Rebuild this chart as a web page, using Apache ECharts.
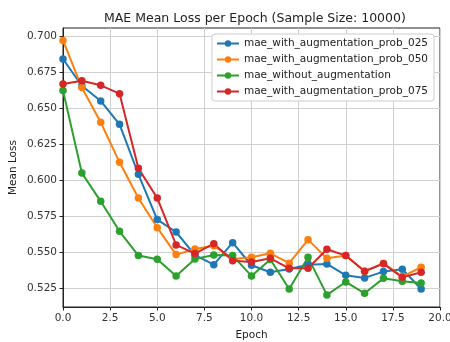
<!DOCTYPE html>
<html>
<head>
<meta charset="utf-8">
<script src="https://cdn.jsdelivr.net/npm/echarts@6/dist/echarts.min.js"></script>
<style>
  html, body {margin: 0; padding: 0; background: #fff;}
  #chart {width: 450px; height: 342px;}
</style>
</head>
<body>
<div id="chart"></div>
<script>
const epochs = [0, 1, 2, 3, 4, 5, 6, 7, 8, 9, 10, 11, 12, 13, 14, 15, 16, 17, 18, 19];
const prob025 = [0.6843, 0.6657, 0.6551, 0.6389, 0.6042, 0.5727, 0.5641, 0.5480, 0.5414, 0.5567,
  0.5410, 0.5361, 0.5384, 0.5414, 0.5419, 0.5340, 0.5322, 0.5366, 0.5382, 0.5245];
const prob050 = [0.6972, 0.6644, 0.6403, 0.6125, 0.5877, 0.5671, 0.5484, 0.5523, 0.5546, 0.5454,
  0.5465, 0.5493, 0.5424, 0.5588, 0.5458, 0.5477, 0.5368, 0.5424, 0.5331, 0.5396];
const noAug = [0.6623, 0.6051, 0.5854, 0.5646, 0.5477, 0.5451, 0.5336, 0.5454, 0.5481, 0.5477,
  0.5336, 0.5450, 0.5245, 0.5465, 0.5204, 0.5294, 0.5215, 0.5319, 0.5299, 0.5287];
const prob075 = [0.6669, 0.6692, 0.6660, 0.6602, 0.6083, 0.5877, 0.5551, 0.5491, 0.5560, 0.5442,
  0.5433, 0.5458, 0.5389, 0.5389, 0.5521, 0.5477, 0.5368, 0.5421, 0.5326, 0.5361];
const yTicks = [0.525, 0.550, 0.575, 0.600, 0.625, 0.650, 0.675, 0.700];

const names = [
  'mae_with_augmentation_prob_025',
  'mae_with_augmentation_prob_050',
  'mae_without_augmentation',
  'mae_with_augmentation_prob_075'
];
const colors = ['#1f77b4', '#ff7f0e', '#2ca02c', '#d62728'];
const values = [prob025, prob050, noAug, prob075];

const font = 'DejaVu Sans';
const chart = echarts.init(document.getElementById('chart'));

chart.setOption({
  animation: false,
  textStyle: {fontFamily: font},
  title: {
    text: 'MAE Mean Loss per Epoch (Sample Size: 10000)',
    left: 99, top: 7,
    textStyle: {fontFamily: font, fontSize: 12.5, fontWeight: 'normal', color: '#222'}
  },
  grid: {
    left: 63, right: 10, top: 28, bottom: 35,
    outerBoundsMode: 'none', containLabel: false,
    show: true, borderColor: '#222', borderWidth: 1
  },
  legend: {
    orient: 'vertical',
    right: 16, top: 34,
    itemWidth: 22, itemHeight: 8, itemGap: 5,
    padding: [4, 6, 4, 4],
    backgroundColor: '#fff', borderColor: '#ccc', borderWidth: 1, borderRadius: 3,
    textStyle: {fontFamily: font, fontSize: 10.5, color: '#222'},
    data: names
  },
  xAxis: {
    type: 'value', min: 0, max: 20, interval: 2.5,
    name: 'Epoch', nameLocation: 'middle', nameGap: 23,
    nameTextStyle: {fontFamily: font, fontSize: 10.5, color: '#222'},
    axisLine: {show: true, lineStyle: {color: '#222', width: 1}},
    axisTick: {show: true, length: 3.5, lineStyle: {color: '#222'}},
    axisLabel: {fontSize: 10.5, color: '#333', margin: 6, formatter: v => v.toFixed(1)},
    splitLine: {show: true, lineStyle: {color: '#d0d0d0', width: 1}}
  },
  yAxis: {
    type: 'value', min: 0.512, max: 0.7058,
    name: 'Mean Loss', nameLocation: 'middle', nameGap: 44, nameMoveOverlap: false,
    nameTextStyle: {fontFamily: font, fontSize: 10.5, color: '#222'},
    axisLine: {show: true, lineStyle: {color: '#222', width: 1}},
    axisTick: {show: true, length: 3.5, lineStyle: {color: '#222'}, customValues: yTicks},
    axisLabel: {fontSize: 10.5, color: '#333', margin: 6, customValues: yTicks, formatter: v => v.toFixed(3)},
    splitLine: {show: true, lineStyle: {color: '#d0d0d0', width: 1}}
  },
  series: names.map((n, i) => ({
    name: n,
    type: 'line',
    data: epochs.map((e, j) => [e, values[i][j]]),
    symbol: 'circle',
    symbolSize: 7.5,
    color: colors[i],
    lineStyle: {width: 2, color: colors[i]},
    itemStyle: {color: colors[i]}
  }))
});
</script>
</body>
</html>
